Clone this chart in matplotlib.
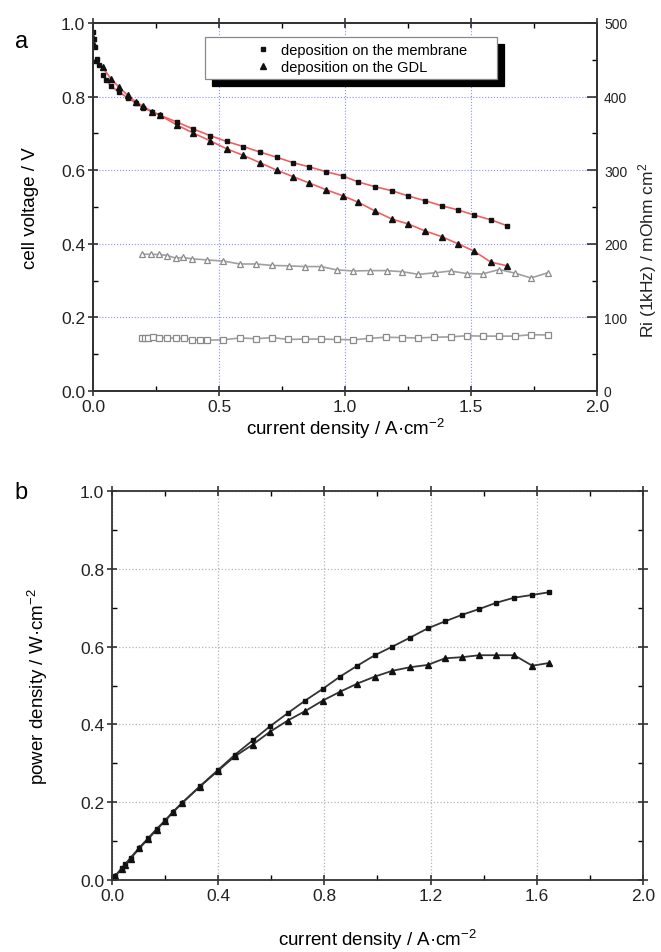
import matplotlib
matplotlib.use('Agg')
import matplotlib.pyplot as plt
from matplotlib.ticker import MultipleLocator

plt.rcParams['font.family'] = ['Liberation Sans', 'DejaVu Sans']
plt.rcParams['mathtext.fontset'] = 'custom'
plt.rcParams['mathtext.rm'] = 'Liberation Sans'
plt.rcParams['mathtext.it'] = 'Liberation Sans:italic'

# polarisation curves (panel a)
i_mem = [0.0, 0.003, 0.006, 0.015, 0.024, 0.038, 0.052, 0.071, 0.104, 0.138,
         0.171, 0.199, 0.234, 0.266, 0.332, 0.397, 0.464, 0.530, 0.597, 0.663,
         0.729, 0.795, 0.858, 0.924, 0.992, 1.052, 1.119, 1.186, 1.25, 1.317,
         1.385, 1.448, 1.512, 1.579, 1.643]
v_mem = [0.975, 0.955, 0.935, 0.902, 0.886, 0.859, 0.846, 0.828, 0.812, 0.796,
         0.782, 0.769, 0.759, 0.749, 0.731, 0.712, 0.694, 0.678, 0.664, 0.649,
         0.635, 0.62, 0.609, 0.596, 0.584, 0.568, 0.555, 0.544, 0.53, 0.517,
         0.503, 0.492, 0.478, 0.465, 0.449]
i_gdl = [0.0, 0.004, 0.012, 0.038, 0.071, 0.104, 0.138, 0.171, 0.199, 0.234,
         0.266, 0.332, 0.397, 0.464, 0.530, 0.597, 0.663, 0.729, 0.795, 0.858,
         0.924, 0.992, 1.052, 1.119, 1.186, 1.25, 1.317, 1.385, 1.448, 1.512,
         1.579, 1.643]
v_gdl = [0.96, 0.94, 0.90, 0.880, 0.848, 0.825, 0.803, 0.785, 0.774, 0.759,
         0.749, 0.723, 0.701, 0.68, 0.658, 0.64, 0.62, 0.60, 0.582, 0.565,
         0.547, 0.53, 0.513, 0.489, 0.467, 0.454, 0.435, 0.419, 0.40, 0.38,
         0.35, 0.34]

# high frequency resistance (mOhm cm2)
i_ri_mem = [0.193, 0.205, 0.218, 0.24, 0.26, 0.292, 0.328, 0.361, 0.392, 0.425,
            0.454, 0.517, 0.583, 0.647, 0.711, 0.775, 0.841, 0.905, 0.967, 1.033,
            1.097, 1.163, 1.225, 1.291, 1.354, 1.419, 1.483, 1.546, 1.612, 1.675,
            1.738, 1.804]
ri_mem = [72, 72.5, 72.5, 73, 72.5, 72.5, 71.5, 71.5, 69.5, 69.5,
          69, 69.5, 72, 71, 72.5, 70, 70.5, 70.5, 70, 69.5,
          71.5, 73, 72.5, 72, 73, 73.5, 75, 74.5, 74.5, 74.5,
          76.5, 76]
i_ri_gdl = [0.193, 0.229, 0.262, 0.295, 0.328, 0.358, 0.392, 0.454, 0.517, 0.583,
            0.647, 0.711, 0.778, 0.841, 0.905, 0.967, 1.033, 1.099, 1.165, 1.228,
            1.291, 1.357, 1.419, 1.483, 1.546, 1.612, 1.675, 1.738, 1.804]
ri_gdl = [186, 185.5, 185.5, 184, 180.5, 181.5, 179.5, 178, 176.5, 172.5,
          172.5, 170.5, 170, 169, 169, 164.5, 163, 163.5, 163.5, 162,
          158.5, 160.5, 163, 159.5, 159, 165, 160, 153.5, 160.5]

# power density curves (panel b)
i_pow = [0.0, 0.011, 0.036, 0.049, 0.07, 0.103, 0.137, 0.168, 0.2, 0.231,
         0.265, 0.331, 0.398, 0.463, 0.530, 0.595, 0.662, 0.727, 0.793, 0.859,
         0.924, 0.99, 1.056, 1.122, 1.189, 1.254, 1.319, 1.384, 1.448, 1.515,
         1.583, 1.647]
p_mem = [0.0, 0.0095, 0.03, 0.04, 0.057, 0.083, 0.108, 0.131, 0.153, 0.176,
         0.199, 0.241, 0.282, 0.322, 0.359, 0.395, 0.429, 0.461, 0.491, 0.523,
         0.551, 0.578, 0.6, 0.623, 0.647, 0.665, 0.682, 0.697, 0.713, 0.726,
         0.733, 0.74]
p_gdl = [0.0, 0.009, 0.028, 0.039, 0.055, 0.081, 0.106, 0.129, 0.152, 0.175,
         0.198, 0.24, 0.28, 0.318, 0.348, 0.381, 0.41, 0.434, 0.461, 0.484,
         0.505, 0.523, 0.538, 0.547, 0.553, 0.570, 0.573, 0.578, 0.578, 0.578,
         0.551, 0.558]

labels = ['deposition on the membrane', 'deposition on the GDL']
xlabel = 'current density / A·cm$^{-2}$'


def style_axis(a, xmaj, xmin, ymaj, ymin):
    a.xaxis.set_major_locator(MultipleLocator(xmaj))
    a.xaxis.set_minor_locator(MultipleLocator(xmin))
    a.yaxis.set_major_locator(MultipleLocator(ymaj))
    a.yaxis.set_minor_locator(MultipleLocator(ymin))
    a.tick_params(which='major', direction='inout', length=7, width=1.1,
                  labelsize=12.5, colors='#222222', pad=2)
    a.tick_params(which='minor', direction='in', length=3.5, width=1.0)
    a.tick_params(axis='x', which='both', top=True)
    for s in a.spines.values():
        s.set_linewidth(1.3)
        s.set_color('#333333')


fig = plt.figure(figsize=(6.61, 9.53), dpi=100)

# ---------- panel a ----------
ax = fig.add_axes([0.1407, 0.5887, 0.7625, 0.3862])
ax2 = ax.twinx()

ax.plot(i_mem[5:], v_mem[5:], color='#f06060', lw=1.2, zorder=2)
ax.plot(i_gdl[3:], v_gdl[3:], color='#f06060', lw=1.2, zorder=2)
ax.plot(i_mem, v_mem, ls='none', marker='s', ms=3.5, color='#111111',
        label=labels[0], zorder=3)
ax.plot(i_gdl, v_gdl, ls='none', marker='^', ms=4.2, color='#111111',
        label=labels[1], zorder=3)

ax2.plot(i_ri_mem, ri_mem, color='#a0a0a0', lw=1.2, marker='s', ms=4,
         mfc='white', mec='#8a8a8a', mew=0.9)
ax2.plot(i_ri_gdl, ri_gdl, color='#a0a0a0', lw=1.2, marker='^', ms=4.5,
         mfc='white', mec='#8a8a8a', mew=0.9)

ax.set_xlim(0, 2.0)
ax.set_ylim(0, 1.0)
ax2.set_ylim(0, 500)
style_axis(ax, 0.5, 0.25, 0.2, 0.1)
ax.tick_params(right=False, which='both')
ax.set_xticklabels([f'{t:.1f}' for t in ax.get_xticks()])
ax.set_yticklabels([f'{t:.1f}' for t in ax.get_yticks()])
ax.grid(True, which='major', color='#8c8cff', ls=':', lw=0.8)

ax2.yaxis.set_major_locator(MultipleLocator(100))
ax2.yaxis.set_minor_locator(MultipleLocator(50))
ax2.tick_params(which='major', direction='in', length=7, width=1.1,
                labelsize=10, colors='#222222', pad=5)
ax2.tick_params(which='minor', direction='in', length=3.5, width=1.0)
for s in ax2.spines.values():
    s.set_linewidth(1.3)
    s.set_color('#333333')

ax.set_ylabel('cell voltage / V', fontsize=13.5)
ax.yaxis.set_label_coords(-0.108, 0.5)
ax.set_xlabel(xlabel, fontsize=13.5)
ax.xaxis.set_label_coords(0.5, -0.068)
ax.xaxis.label.set_va('top')

fig.text(0.962, 1 - 250 / 953, 'Ri (1kHz) / mOhm cm$^{2}$', rotation=90,
         ha='left', va='center', fontsize=12.5, color='#222222')

leg = ax.legend(loc='upper left', bbox_to_anchor=(0.222, 0.962),
                borderaxespad=0, fontsize=10.5,
                frameon=True, fancybox=False, framealpha=1,
                edgecolor='#888888', handlelength=7.2, handletextpad=-2.4,
                borderpad=0.4, labelspacing=0.2,
                shadow={'color': 'black', 'alpha': 1, 'ox': 5, 'oy': -5})
leg.get_frame().set_linewidth(0.9)
for t in leg.get_texts():
    t.set_text(t.get_text() + '      ')

fig.text(0.022, 1 - 42 / 953, 'a', fontsize=17, va='center', ha='left')

# ---------- panel b ----------
bx = fig.add_axes([0.1694, 0.0756, 0.8033, 0.408])
bx.plot(i_pow, p_mem, color='#333333', lw=1.3, marker='s', ms=3.5,
        mfc='#111111', mec='#111111')
bx.plot(i_pow, p_gdl, color='#333333', lw=1.3, marker='^', ms=4,
        mfc='#111111', mec='#111111')
bx.set_xlim(0, 2.0)
bx.set_ylim(0, 1.0)
style_axis(bx, 0.4, 0.2, 0.2, 0.1)
bx.tick_params(axis='y', which='both', right=True)
bx.set_xticklabels([f'{t:.1f}' for t in bx.get_xticks()])
bx.set_yticklabels([f'{t:.1f}' for t in bx.get_yticks()])
bx.grid(True, which='major', color='#b5b5b5', ls=':', lw=0.9)

bx.set_ylabel('power density / W·cm$^{-2}$', fontsize=13.5)
bx.yaxis.set_label_coords(-0.117, 0.5)
bx.set_xlabel(xlabel, fontsize=13.5)
bx.xaxis.set_label_coords(0.5, -0.12)
bx.xaxis.label.set_va('top')

fig.text(0.022, 1 - 493 / 953, 'b', fontsize=17, va='center', ha='left')

fig.savefig('out.png', dpi=100)
